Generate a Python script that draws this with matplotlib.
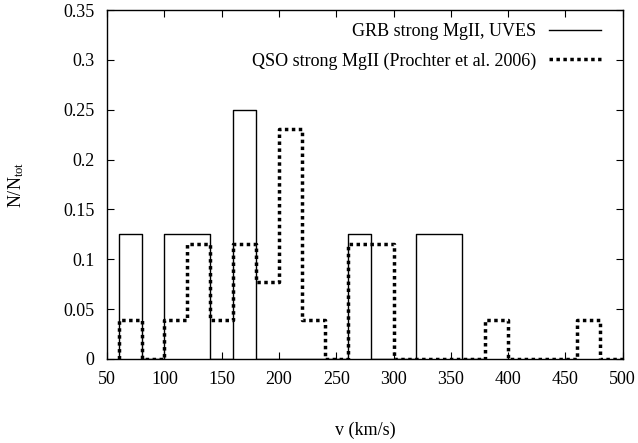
"""Velocity width histograms of strong MgII absorbers: GRB vs QSO sightlines."""

import matplotlib

matplotlib.use("Agg")
import matplotlib.pyplot as plt
import numpy as np

plt.rcParams["font.family"] = ["Liberation Serif", "DejaVu Serif"]
plt.rcParams["mathtext.fontset"] = "custom"
plt.rcParams["mathtext.rm"] = "Liberation Serif"
plt.rcParams["mathtext.it"] = "Liberation Serif:italic"

# bin left edges (km/s), width 20
grb_edges = [60, 80, 100, 120, 140, 160, 180, 200, 220, 240, 260, 280, 300, 320, 340, 360, 380]
grb_frac = [0.125, 0.0, 0.125, 0.125, 0.0, 0.25, 0.0, 0.0, 0.0, 0.0, 0.125, 0.0, 0.0, 0.125, 0.125, 0.0, 0.0]

qso_edges = [60, 80, 100, 120, 140, 160, 180, 200, 220, 240, 260, 280, 300, 320, 340,
             360, 380, 400, 420, 440, 460, 480, 500]
qso_frac = [0.0385, 0.0, 0.0385, 0.1154, 0.0385, 0.1154, 0.0769, 0.2308, 0.0385, 0.0,
            0.1154, 0.1154, 0.0, 0.0, 0.0, 0.0, 0.0385, 0.0, 0.0, 0.0, 0.0385, 0.0, 0.0]

x_ticks = [50, 100, 150, 200, 250, 300, 350, 400, 450, 500]
y_ticks = [0, 0.05, 0.1, 0.15, 0.2, 0.25, 0.3, 0.35]
y_labels = ["0", "0.05", "0.1", "0.15", "0.2", "0.25", "0.3", "0.35"]


def step_xy(edges, vals):
    x = np.concatenate([[edges[0]], edges])
    y = np.concatenate([[0.0], vals])
    return x, y


fig = plt.figure(figsize=(6.38, 4.43), dpi=100)
ax = fig.add_axes([0.168, 0.190, 0.808, 0.787])

x, y = step_xy(grb_edges, grb_frac)
ax.step(x, y, where="post", color="black", linewidth=1.0,
        label="GRB strong MgII, UVES")
x, y = step_xy(qso_edges, qso_frac)
ax.step(x, y, where="post", color="black", linewidth=2.5,
        linestyle=(0, (1, 1)), label="QSO strong MgII (Prochter et al. 2006)")

ax.set_xlim(50, 500)
ax.set_ylim(0, 0.35)
ax.set_xticks(x_ticks)
ax.set_yticks(y_ticks)
ax.set_yticklabels(y_labels)
ax.tick_params(direction="in", length=5, width=0.8, top=True, right=True,
               labelsize=13, pad=9)
for s in ax.spines.values():
    s.set_linewidth(1.0)

ax.set_xlabel("v (km/s)", fontsize=13, labelpad=24)
ax.set_ylabel(r"N/N$_{\rm tot}$", fontsize=13, rotation=90, va="center")
ax.yaxis.set_label_coords(-0.176, 0.5)

ax.legend(loc="upper right", bbox_to_anchor=(1.0, 1.025), frameon=False,
          markerfirst=False, fontsize=13, handlelength=2.9, handletextpad=0.7,
          borderaxespad=0.8, labelspacing=0.68, alignment="right")

fig.savefig("out.png", dpi=100)
